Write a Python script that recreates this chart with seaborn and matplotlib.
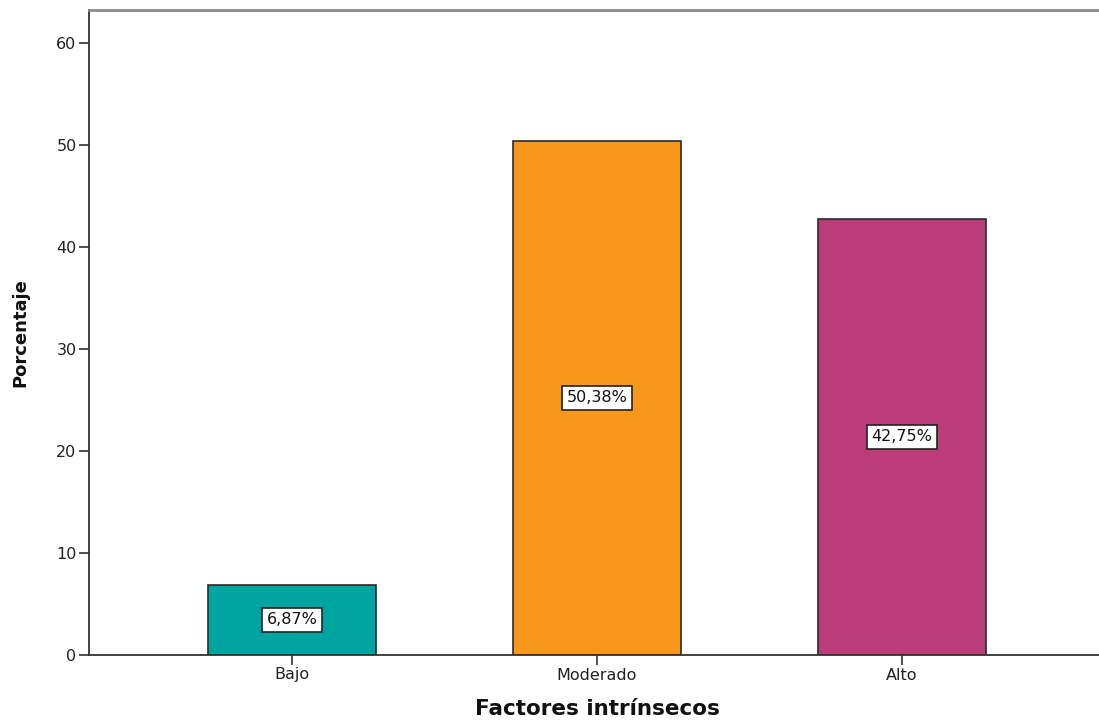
import matplotlib
matplotlib.use("Agg")
import matplotlib.pyplot as plt
import seaborn as sns
import pandas as pd

categorias = ["Bajo", "Moderado", "Alto"]
porcentajes = [6.87, 50.38, 42.75]
etiquetas = ["6,87%", "50,38%", "42,75%"]
colores = ["#00A5A2", "#F7981D", "#BA3D79"]

sns.set_theme(style="white")
plt.rcParams["font.family"] = ["DejaVu Sans"]

df = pd.DataFrame({"Factores intrínsecos": categorias, "Porcentaje": porcentajes})

fig = plt.figure(figsize=(10.99, 7.2), dpi=100)
ax = fig.add_axes([89 / 1099, 65 / 720, 1016 / 1099, 645 / 720])

sns.barplot(data=df, x="Factores intrínsecos", y="Porcentaje", hue="Factores intrínsecos",
            palette=colores, order=categorias, hue_order=categorias, legend=False,
            width=0.55, edgecolor="#2b2b2b", linewidth=1.2, saturation=1, ax=ax)

for i, (v, t) in enumerate(zip(porcentajes, etiquetas)):
    ax.text(i, v / 2, t, ha="center", va="center", fontsize=11.5, color="#111111",
            bbox=dict(boxstyle="square,pad=0.3", facecolor="white", edgecolor="#222222", linewidth=1.2))

ax.set_xlim(-0.665, 2.665)
ax.set_ylim(0, 63.2)
ax.set_yticks([0, 10, 20, 30, 40, 50, 60])
ax.tick_params(axis="both", direction="out", length=7, width=1.2, colors="#333333",
               labelsize=11.5, labelcolor="#222222", left=True, bottom=True, pad=2)

for s in ["left", "bottom"]:
    ax.spines[s].set_color("#333333")
    ax.spines[s].set_linewidth(1.3)
ax.spines["top"].set_color("#8a8a8a")
ax.spines["top"].set_linewidth(2)
ax.spines["right"].set_visible(False)

ax.set_xlabel("Factores intrínsecos", fontsize=15.5, fontweight="bold", labelpad=12, color="#111111")
ax.set_ylabel("Porcentaje", fontsize=13, fontweight="bold", labelpad=19, color="#111111")

fig.savefig("out.png", dpi=100, facecolor="white")
